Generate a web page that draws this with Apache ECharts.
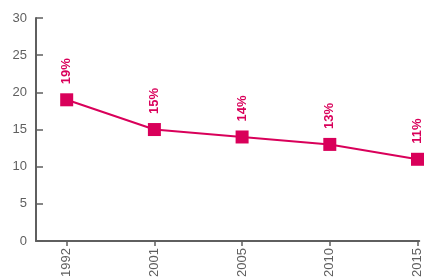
<!DOCTYPE html>
<html><head><meta charset="utf-8">
<script src="https://cdn.jsdelivr.net/npm/echarts@6/dist/echarts.min.js"></script>
<style>html,body{margin:0;padding:0;background:#fff}#c{width:424px;height:280px}</style>
</head><body><div id="c"></div>
<script>
const years = ['1992','2001','2005','2010','2015'];
const values = [19, 15, 14, 13, 11];
const yTicks = [0, 5, 10, 15, 20, 25, 30];

const idx = years.map((_, i) => i);
const chart = echarts.init(document.getElementById('c'));
const pink = '#d9005a';
const grey = '#5f5f5f';
chart.setOption({
  animation: false,
  grid: {left: 36, top: 18, bottom: 37, right: 0, containLabel: false},
  xAxis: {
    type: 'value', min: -0.35, max: 4.02,
    axisLine: {show: true, onZero: false, lineStyle: {color: grey, width: 2}},
    axisTick: {show: true, length: 5, lineStyle: {color: grey, width: 1.5}, customValues: idx},
    axisLabel: {customValues: idx, rotate: 90, color: grey, fontSize: 13, margin: 7, fontFamily: 'Liberation Sans Narrow, Liberation Sans',
      formatter: v => years[Math.round(v)] || ''},
    splitLine: {show: false}
  },
  yAxis: {
    type: 'value', min: yTicks[0], max: yTicks[yTicks.length-1], interval: 5,
    axisLine: {show: true, onZero: false, lineStyle: {color: grey, width: 2}},
    axisTick: {show: true, inside: true, length: 7, lineStyle: {color: grey, width: 1.5}},
    axisLabel: {color: grey, fontSize: 13, margin: 9, fontFamily: 'Liberation Sans Narrow, Liberation Sans'},
    splitLine: {show: false}
  },
  series: [{
    type: 'line',
    data: values.map((v, i) => [idx[i], v]),
    symbol: 'rect', symbolSize: 13,
    itemStyle: {color: pink},
    lineStyle: {color: pink, width: 2},
    label: {show: true, position: 'top', distance: 9, rotate: 90, align: 'left', verticalAlign: 'middle',
      color: pink, fontWeight: 'bold', fontSize: 13, fontFamily: 'Liberation Sans Narrow, Liberation Sans',
      formatter: p => p.value[1] + '%'}
  }]
});
</script></body></html>
